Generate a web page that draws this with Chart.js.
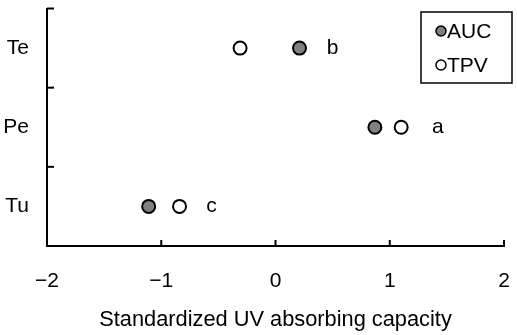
<!DOCTYPE html>
<html>
<head>
<meta charset="utf-8">
<script src="https://cdn.jsdelivr.net/npm/chart.js@4/dist/chart.umd.min.js"></script>
<style>
  html, body { margin: 0; padding: 0; background: #fff; }
  #wrap { width: 517px; height: 335px; position: relative; }
</style>
</head>
<body>
<div id="wrap"><canvas id="c" width="517" height="335"></canvas></div>
<script>
const categories = ['Te', 'Pe', 'Tu'];
const categoryPositions = [2.5, 1.5, 0.5];
const aucValues = [0.21, 0.87, -1.11];
const tpvValues = [-0.31, 1.10, -0.84];
const groupLetters = ['b', 'a', 'c'];
const letterX = [0.50, 1.42, -0.56];
const xTickValues = [-2, -1, 0, 1, 2];
const yTickMarks = [0, 1, 2, 3];
const seriesNames = ['AUC', 'TPV'];
const xTitle = 'Standardized UV absorbing capacity';

const FONT = '"Liberation Sans", Arial, sans-serif';
const FS = 21;

const toPoints = vals => vals.map((v, i) => ({ x: v, y: categoryPositions[i] }));

const decorPlugin = {
  id: 'decor',
  afterDraw(chart) {
    const ctx = chart.ctx;
    const xs = chart.scales.x, ys = chart.scales.y;
    const area = chart.chartArea;
    ctx.save();
    ctx.strokeStyle = '#000';
    ctx.lineWidth = 2;
    xTickValues.forEach(v => {
      const px = xs.getPixelForValue(v);
      ctx.beginPath();
      ctx.moveTo(px, area.bottom);
      ctx.lineTo(px, area.bottom - 6);
      ctx.stroke();
    });
    yTickMarks.forEach(v => {
      const py = ys.getPixelForValue(v);
      ctx.beginPath();
      ctx.moveTo(area.left, py);
      ctx.lineTo(area.left + 7, py);
      ctx.stroke();
    });
    ctx.fillStyle = '#000';
    ctx.font = FS + 'px ' + FONT;
    ctx.textAlign = 'center';
    ctx.textBaseline = 'middle';
    groupLetters.forEach((t, i) => {
      ctx.fillText(t, xs.getPixelForValue(letterX[i]), ys.getPixelForValue(categoryPositions[i]));
    });
    ctx.lineWidth = 1.5;
    ctx.strokeRect(421, 12, 91, 71);
    const fills = ['#808080', '#ffffff'];
    const ly = [31, 65];
    seriesNames.forEach((name, i) => {
      ctx.beginPath();
      ctx.arc(441, ly[i], 5, 0, Math.PI * 2);
      ctx.fillStyle = fills[i];
      ctx.fill();
      ctx.lineWidth = 1.5;
      ctx.strokeStyle = '#000';
      ctx.stroke();
      ctx.fillStyle = '#000';
      ctx.textAlign = 'left';
      ctx.fillText(name, 447, ly[i] + 1);
    });
    ctx.restore();
  }
};

new Chart(document.getElementById('c'), {
  type: 'scatter',
  data: {
    datasets: [
      {
        label: seriesNames[0],
        data: toPoints(aucValues),
        pointRadius: 6.5,
        pointHoverRadius: 6.5,
        pointBackgroundColor: '#808080',
        pointBorderColor: '#000',
        pointBorderWidth: 2
      },
      {
        label: seriesNames[1],
        data: toPoints(tpvValues),
        pointRadius: 6.5,
        pointHoverRadius: 6.5,
        pointBackgroundColor: '#ffffff',
        pointBorderColor: '#000',
        pointBorderWidth: 2
      }
    ]
  },
  options: {
    responsive: false,
    animation: false,
    events: [],
    layout: { padding: { top: 4, right: 13, left: 0, bottom: 0 } },
    plugins: { legend: { display: false }, tooltip: { enabled: false } },
    scales: {
      x: {
        type: 'linear',
        min: -2, max: 2,
        afterBuildTicks: s => { s.ticks = xTickValues.map(v => ({ value: v })); },
        afterFit: s => { s.height = 89; s.paddingLeft = 0; s.paddingRight = 0; },
        grid: { display: false, drawTicks: false },
        border: { display: true, color: '#000', width: 2 },
        ticks: {
          color: '#000',
          font: { family: FONT, size: FS },
          padding: 23,
          callback: v => String(v).replace('-', '\u2212')
        },
        title: {
          display: true,
          text: xTitle,
          color: '#000',
          font: { family: FONT, size: 21.8 },
          padding: { top: 2, bottom: 2 }
        }
      },
      y: {
        type: 'linear',
        min: 0, max: 3,
        afterBuildTicks: s => { s.ticks = categoryPositions.map(v => ({ value: v })); },
        afterFit: s => { s.width = 47; s.paddingTop = 0; s.paddingBottom = 0; },
        grid: { display: false, drawTicks: false },
        border: { display: true, color: '#000', width: 2 },
        ticks: {
          color: '#000',
          font: { family: FONT, size: FS },
          padding: 18,
          callback: v => categories[categoryPositions.indexOf(v)]
        }
      }
    }
  },
  plugins: [decorPlugin]
});
</script>
</body>
</html>
